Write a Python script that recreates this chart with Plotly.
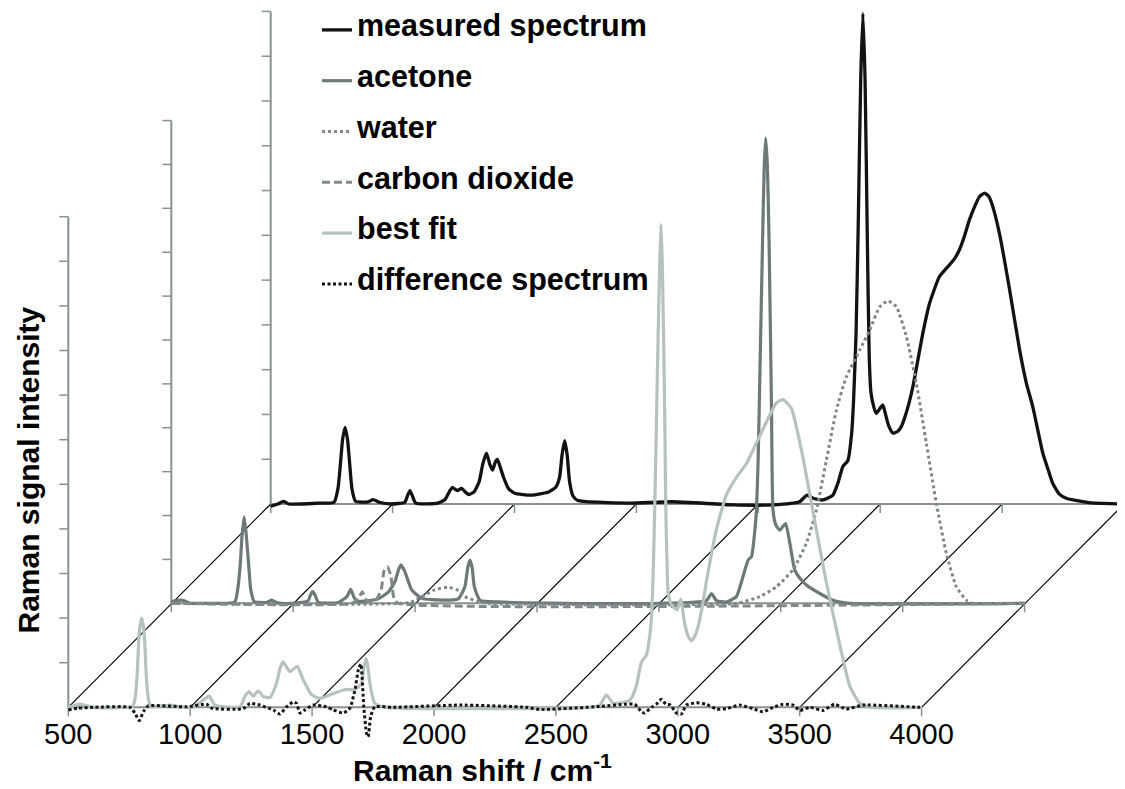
import plotly.graph_objects as go

# ---------------- data (wavenumber / cm-1, intensity in axis-tick units) ----------------
X_TICKS = [500, 1000, 1500, 2000, 2500, 3000, 3500, 4000]
X_TICK_LABELS = ["500", "1000", "1500", "2000", "2500", "3000", "3500", "4000"]
Y_TICKS = list(range(12))

MEAS_WN = [500, 530, 552, 575, 700, 760, 776, 786, 795, 805, 815, 824, 833, 848, 900, 920, 945,
           995, 1050, 1062, 1071, 1080, 1095, 1186, 1215, 1233, 1245, 1265, 1283, 1300, 1313, 1335,
           1355, 1370, 1385, 1398, 1410, 1422, 1430, 1440, 1455, 1475, 1500, 1570, 1640, 1670, 1685,
           1695, 1706, 1716, 1726, 1740, 1760, 1842, 1979, 2150, 2396, 2560, 2669, 2700, 2724, 2765,
           2806, 2826, 2847, 2867, 2883, 2891, 2901, 2910, 2920, 2929, 2938, 2947, 2955, 2962, 2975,
           2984, 3000, 3011, 3020, 3035, 3052, 3070, 3086, 3110, 3134, 3175, 3200, 3216, 3243, 3264,
           3284, 3305, 3325, 3345, 3366, 3390, 3407, 3428, 3445, 3460, 3489, 3531, 3572, 3600, 3626,
           3667, 3690, 3708, 3735, 3763, 3858, 4000]
MEAS_I = [-0.05, 0.0, 0.06, 0.0, 0.02, 0.04, 0.35, 0.9, 1.45, 1.72, 1.45, 0.9, 0.35, 0.06, 0.05, 0.1, 0.04,
          0.0, 0.04, 0.2, 0.3, 0.2, 0.02, 0.02, 0.1, 0.28, 0.37, 0.3, 0.35, 0.26, 0.21, 0.28,
          0.5, 0.9, 1.14, 0.9, 0.76, 0.95, 1.0, 0.85, 0.6, 0.35, 0.24, 0.2, 0.27, 0.38, 0.6,
          1.1, 1.42, 1.1, 0.5, 0.18, 0.08, 0.04, 0.02, 0.05, -0.02, -0.02, 0.05, 0.2, 0.13, 0.09,
          0.2, 0.46, 0.84, 0.97, 1.59, 2.35, 3.83, 6.3, 9.5, 11.0, 9.5, 6.0, 3.3, 2.5, 2.15,
          2.03, 2.15, 2.22, 2.05, 1.75, 1.59, 1.62, 1.73, 2.1, 2.63, 3.83, 4.45, 4.72, 5.10, 5.24,
          5.36, 5.5, 5.7, 6.0, 6.37, 6.7, 6.89, 6.97, 6.9, 6.7, 6.07, 4.80, 3.45, 2.7, 2.18,
          1.14, 0.75, 0.46, 0.22, 0.13, 0.03, 0.0]

ACET_WN = [500, 543, 580, 611, 760, 772, 782, 790, 799, 808, 818, 826, 840, 890, 912, 935, 994,
           1060, 1072, 1080, 1090, 1103, 1185, 1220, 1236, 1248, 1260, 1294, 1349, 1390, 1417, 1432,
           1442, 1458, 1486, 1527, 1609, 1677, 1704, 1716, 1725, 1734, 1743, 1766, 1841, 2114, 2504,
           2695, 2716, 2736, 2777, 2818, 2845, 2866, 2880, 2893, 2900, 2907, 2914, 2925, 2932, 2938,
           2945, 2952, 2962, 2968, 2980, 2996, 3008, 3020, 3037, 3057, 3080, 3105, 3160, 3214, 3283,
           4000]
ACET_I = [0.04, 0.07, 0.0, 0.0, 0.03, 0.3, 0.81, 1.5, 1.94, 1.5, 0.81, 0.3, 0.04, 0.02, 0.07, 0.01, 0.0,
          0.05, 0.2, 0.26, 0.18, 0.02, 0.02, 0.15, 0.31, 0.15, 0.05, 0.05, 0.1, 0.25, 0.48, 0.75,
          0.86, 0.71, 0.30, 0.11, 0.07, 0.1, 0.37, 0.8, 0.97, 0.8, 0.37, 0.07, 0.03, 0.0, 0.0,
          0.06, 0.22, 0.06, 0.03, 0.15, 0.6, 0.97, 1.05, 1.6, 2.09, 3.2, 5.08, 8.07, 9.8, 10.43,
          9.8, 8.07, 4.33, 2.09, 1.75, 1.64, 1.72, 1.79, 1.35, 0.75, 0.55, 0.41, 0.22, 0.07, 0.0,
          0.0]

WATER_WN = [500, 1480, 1527, 1580, 1636, 1680, 1704, 1757, 1800, 2818, 2914, 2982, 3050, 3105, 3146,
            3187, 3228, 3269, 3324, 3365, 3406, 3440, 3474, 3515, 3556, 3597, 3638, 3679, 3720, 3761,
            3788, 4000]
WATER_I = [0.0, 0.02, 0.15, 0.3, 0.36, 0.28, 0.15, 0.04, 0.0, 0.0, 0.15, 0.37, 0.75, 1.35, 2.09,
           3.21, 4.33, 5.08, 5.68, 6.13, 6.65, 6.78, 6.65, 5.98, 4.93, 3.59, 2.24, 1.12, 0.37, 0.07,
           0.0, 0.0]

CO2_WN = [500, 1240, 1267, 1283, 1301, 1335, 1360, 1373, 1386, 1400, 1414, 1431, 4000]
CO2_I = [0.0, 0.0, 0.1, 0.26, 0.07, 0.05, 0.28, 0.73, 0.82, 0.63, 0.1, 0.0, 0.0]

FIT_WN = [500, 507, 548, 603, 760, 770, 778, 784, 789, 795, 801, 807, 813, 818, 824, 832, 842,
          880, 917, 960, 1013, 1053, 1078, 1101, 1204, 1224, 1241, 1259, 1279, 1300, 1327, 1354,
          1370, 1381, 1409, 1439, 1464, 1498, 1532, 1587, 1641, 1675, 1703, 1713, 1721, 1729, 1737,
          1757, 1805, 2640, 2680, 2707, 2735, 2803, 2830, 2851, 2871, 2885, 2892, 2899, 2905, 2912,
          2919, 2926, 2931, 2936, 2942, 2947, 2951, 2956, 2960, 2970, 2980, 2997, 3012, 3028, 3042,
          3056, 3070, 3083, 3100, 3117, 3158, 3199, 3240, 3281, 3322, 3363, 3404, 3431, 3466, 3507,
          3555, 3609, 3664, 3705, 3746, 3787, 4000]
FIT_I = [0.0, 0.01, 0.07, 0.0, 0.01, 0.1, 0.39, 0.9, 1.51, 1.85, 2.0, 1.85, 1.51, 0.9, 0.39, 0.1, 0.01,
         0.03, 0.05, 0.01, 0.0, 0.16, 0.25, 0.05, 0.01, 0.24, 0.35, 0.25, 0.37, 0.24, 0.22, 0.54,
         0.9, 1.02, 0.80, 0.92, 0.61, 0.28, 0.2, 0.31, 0.40, 0.39, 0.54, 0.9, 1.10, 0.9, 0.54,
         0.09, 0.0, 0.0, 0.05, 0.28, 0.09, 0.16, 0.48, 1.02, 1.17, 1.6, 2.03, 3.0, 4.37, 6.3,
         8.26, 10.0, 10.83, 10.0, 8.26, 6.3, 4.37, 3.2, 2.58, 2.35, 2.26, 2.19, 2.42, 1.88, 1.6,
         1.49, 1.6, 1.80, 2.25, 2.81, 3.98, 4.76, 5.15, 5.46, 5.92, 6.39, 6.82, 6.90, 6.70, 5.77,
         4.37, 2.81, 1.41, 0.48, 0.09, 0.0, 0.0]

DIFF_WN = [500, 540, 603, 753, 773, 791, 808, 828, 985, 1067, 1088, 1218, 1245, 1286, 1341, 1368,
           1395, 1422, 1436, 1450, 1470, 1504, 1559, 1587, 1628, 1655, 1676, 1690, 1700, 1712, 1723,
           1730, 1740, 1757, 1833, 2106, 2379, 2434, 2680, 2789, 2823, 2851, 2864, 2892, 2912, 2933,
           2951, 2970, 2994, 3015, 3035, 3076, 3117, 3158, 3199, 3254, 3308, 3349, 3391, 3432, 3473,
           3500, 3541, 3596, 3643, 3691, 3760, 3992, 4000]
DIFF_I = [-0.06, -0.02, 0.0, 0.0, -0.13, -0.30, -0.1, 0.03, 0.01, 0.07, -0.02, -0.03, 0.09, 0.05, -0.06, -0.15,
          0.01, 0.12, 0.09, -0.13, -0.06, 0.05, 0.01, -0.06, -0.13, -0.02, 0.39, 0.85, 0.97, 0.01, -0.58,
          -0.66, -0.21, 0.01, 0.0, 0.05, 0.0, -0.05, 0.02, 0.07, 0.07, -0.1, -0.13, 0.0, 0.07, 0.18,
          0.07, 0.05, -0.13, -0.15, 0.05, 0.1, 0.07, -0.04, -0.03, 0.05, -0.03, -0.1, 0.0, 0.07, 0.05,
          -0.07, 0.0, -0.07, 0.07, -0.04, 0.05, 0.0, 0.0]

# ---------------- geometry / styling ----------------
PAGE_MARGIN = 8                      # default body margin of the html page
W, H = 1125 - PAGE_MARGIN, 789 - PAGE_MARGIN
FONT = "Liberation Sans, Arial, sans-serif"
PX_PER_WN = 0.2438                   # horizontal scale (px per cm-1)
PX_PER_UNIT = 44.6                   # vertical scale (px per tick)
ORIGIN_X_PX = 68.3 - PAGE_MARGIN     # pixel of (500 cm-1, 0) on the front plane
ORIGIN_Y_PX = 707.3 - PAGE_MARGIN
# plane offsets in px (dx, dy) and tick spacing factor
PLANES = {"front": (0.0, 0.0, 1.0), "mid": (103.0, 104.0, 0.984), "back": (202.4, 203.3, 1.004)}
TICK_PX = 9
AXIS_COLOR = "#87928f"
LEGEND_TEXT_PX = 30.5

X_RANGE = [X_TICKS[0] - ORIGIN_X_PX / PX_PER_WN, X_TICKS[0] + (W - ORIGIN_X_PX) / PX_PER_WN]
Y_RANGE = [-(H - ORIGIN_Y_PX) / PX_PER_UNIT, ORIGIN_Y_PX / PX_PER_UNIT]


def offs(plane):
    dxp, dyp, s = PLANES[plane]
    return dxp / PX_PER_WN, dyp / PX_PER_UNIT, s


def proj(wn, inten, plane):
    dx, dy, _ = offs(plane)
    return [w + dx for w in wn], [v + dy for v in inten]


def px(xr, yr):
    """paper coords from reference-page pixel coords"""
    return (xr - PAGE_MARGIN) / W, 1 - (yr - PAGE_MARGIN) / H


fig = go.Figure()


def deco(xs, ys, color, width):
    fig.add_trace(go.Scatter(x=xs, y=ys, mode="lines", line=dict(color=color, width=width),
                             showlegend=False, hoverinfo="skip"))


# diagonal floor lines (front tick -> back tick)
dxb, dyb, _ = offs("back")
xs, ys = [], []
for t in X_TICKS:
    xs += [t, t + dxb, None]
    ys += [0, dyb, None]
deco(xs, ys, "#000000", 1.2)

# baselines, baseline ticks, vertical axes
tick_dwn = TICK_PX / PX_PER_UNIT
tick_dx = TICK_PX / PX_PER_WN
for plane in ["back", "mid", "front"]:
    dx, dy, s = offs(plane)
    deco([X_TICKS[0] + dx, X_TICKS[-1] + dx], [dy, dy], AXIS_COLOR, 2)
    xs, ys = [], []
    for t in X_TICKS:
        xs += [t + dx, t + dx, None]
        ys += [dy, dy - tick_dwn, None]
    deco(xs, ys, AXIS_COLOR, 1.5)
    deco([X_TICKS[0] + dx, X_TICKS[0] + dx], [dy, dy + Y_TICKS[-1] * s], AXIS_COLOR, 2)
    xs, ys = [], []
    for k in Y_TICKS[1:]:
        xs += [X_TICKS[0] + dx - tick_dx, X_TICKS[0] + dx, None]
        ys += [dy + k * s, dy + k * s, None]
    deco(xs, ys, AXIS_COLOR, 1.5)

# spectra
series = [
    ("measured spectrum", MEAS_WN, MEAS_I, "back", "#121212", 3.3, "solid"),
    ("acetone", ACET_WN, ACET_I, "mid", "#6d7979", 3.2, "solid"),
    ("water", WATER_WN, WATER_I, "mid", "#7d8787", 3, "3px,3px"),
    ("carbon dioxide", CO2_WN, CO2_I, "mid", "#808a8a", 3, "8px,4px"),
    ("best fit", FIT_WN, FIT_I, "front", "#b6c2c0", 3.2, "solid"),
    ("difference spectrum", DIFF_WN, DIFF_I, "front", "#151515", 3, "3px,2.5px"),
]
for name, wn, inten, plane, color, width, dash in series:
    x, y = proj(wn, inten, plane)
    label = "<span style='font-size:%spx'>%s</span>" % (LEGEND_TEXT_PX, name)
    fig.add_trace(go.Scatter(x=x, y=y, mode="lines", name=label, legendgroup=name,
                             line=dict(color=color, width=width, dash=dash, shape="spline", smoothing=0.5),
                             hoverinfo="skip"))

tx, _ = px(482.5, 775)
fig.add_annotation(x=tx, y=0, xref="paper", yref="paper", xanchor="center",
                   yanchor="bottom", showarrow=False,
                   text="<b>Raman shift / cm<sup>-1</sup></b>",
                   font=dict(family=FONT, size=30, color="black"))
ax_, ay_ = px(27.5, 470)
fig.add_annotation(x=ax_, y=ay_, xref="paper", yref="paper", xanchor="center",
                   yanchor="middle", showarrow=False, textangle=-90,
                   text="<b>Raman signal intensity</b>",
                   font=dict(family=FONT, size=30, color="black"))

lx, _ = px(317, 0)
fig.update_layout(
    width=W, height=H, margin=dict(l=0, r=0, t=0, b=0, autoexpand=False),
    paper_bgcolor="white", plot_bgcolor="white", hovermode=False,
    font=dict(family=FONT, color="black"),
    xaxis=dict(range=X_RANGE, showgrid=False, zeroline=False, showline=False, ticks="",
               tickmode="array", tickvals=X_TICKS, ticktext=X_TICK_LABELS,
               tickfont=dict(family=FONT, size=29, color="black"),
               anchor="free", position=(H - ORIGIN_Y_PX) / H, ticklabelstandoff=7, fixedrange=True),
    yaxis=dict(range=Y_RANGE, visible=False, fixedrange=True),
    legend=dict(x=lx, y=1 - 5 / H, xanchor="left", yanchor="top", traceorder="grouped",
                tracegroupgap=27, bgcolor="rgba(0,0,0,0)", itemwidth=30,
                font=dict(family=FONT, size=16, color="black", weight="bold")),
)

fig.write_html("out.html")
